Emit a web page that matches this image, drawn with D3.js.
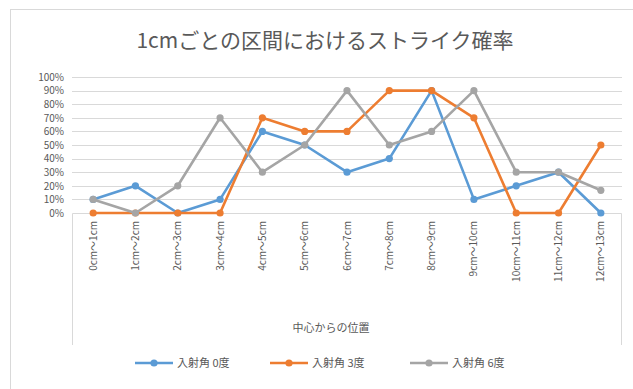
<!DOCTYPE html>
<html>
<head>
<meta charset="utf-8">
<script src="https://cdn.jsdelivr.net/npm/d3@7/dist/d3.min.js"></script>
<style>
  html, body { margin: 0; padding: 0; background: #fff; }
  svg { display: block; font-family: "Noto Sans CJK JP", "Noto Sans", sans-serif; }
</style>
</head>
<body>
<svg id="chart" width="633" height="389"></svg>
<script>
// Interval categories (distance from centre)
const categories = [
  "0cm～1cm", "1cm～2cm", "2cm～3cm", "3cm～4cm", "4cm～5cm", "5cm～6cm",
  "6cm～7cm", "7cm～8cm", "8cm～9cm", "9cm～10cm", "10cm～11cm", "11cm～12cm", "12cm～13cm"
];
// Strike probability per interval for each incidence angle
const angle0 = [0.10, 0.20, 0.00, 0.10, 0.60, 0.50, 0.30, 0.40, 0.90, 0.10, 0.20, 0.30, 0.00];
const angle3 = [0.00, 0.00, 0.00, 0.00, 0.70, 0.60, 0.60, 0.90, 0.90, 0.70, 0.00, 0.00, 0.50];
const angle6 = [0.10, 0.00, 0.20, 0.70, 0.30, 0.50, 0.90, 0.50, 0.60, 0.90, 0.30, 0.30, 0.167];
const seriesNames = ["入射角 0度", "入射角 3度", "入射角 6度"];
const yTicks = [0, 0.1, 0.2, 0.3, 0.4, 0.5, 0.6, 0.7, 0.8, 0.9, 1.0];

const title = "1cmごとの区間におけるストライク確率";
const xTitle = "中心からの位置";

const colors = ["#5b9bd5", "#ed7d31", "#a5a5a5"];
const series = [angle0, angle3, angle6].map((v, i) => ({ name: seriesNames[i], values: v, color: colors[i] }));

const svg = d3.select("#chart");
const W = 633, H = 389;
const plot = { left: 72, right: 622, top: 77, bottom: 213 };

// Chart frame
svg.append("rect")
  .attr("x", 10.5).attr("y", 9.5).attr("width", W + 10).attr("height", H + 10)
  .attr("fill", "#fff").attr("stroke", "#d9d9d9");

// Title
svg.append("text")
  .attr("x", 325).attr("y", 48)
  .attr("text-anchor", "middle")
  .attr("font-size", 21)
  .attr("fill", "#595959")
  .text(title);

const x = d3.scaleBand().domain(categories).range([plot.left, plot.right]);
const y = d3.scaleLinear().domain([0, 1]).range([plot.bottom, plot.top]);

// Horizontal gridlines
svg.append("g")
  .selectAll("line")
  .data(yTicks.filter(t => t > 0))
  .join("line")
  .attr("x1", plot.left).attr("x2", plot.right)
  .attr("y1", d => Math.round(y(d)) + 0.5).attr("y2", d => Math.round(y(d)) + 0.5)
  .attr("stroke", "#d9d9d9").attr("stroke-width", 1);

// Y axis labels
const yAxis = d3.axisLeft(y).tickValues(yTicks).tickFormat(d3.format(".0%")).tickSize(0).tickPadding(8);
const yg = svg.append("g").attr("transform", `translate(${plot.left},0)`).call(yAxis);
yg.select(".domain").remove();
yg.selectAll("text").attr("font-size", 10).attr("fill", "#595959")
  .attr("font-family", "\"Noto Sans CJK JP\", sans-serif");

// Category-axis box below the baseline
const boxBottom = 345;
svg.append("path")
  .attr("d", `M${plot.left + 0.5},${boxBottom}V${Math.round(plot.bottom) + 0.5}H${plot.right - 0.5}V${boxBottom}`)
  .attr("fill", "none").attr("stroke", "#d9d9d9");

// X axis labels (rotated)
const xAxis = d3.axisBottom(x).tickSize(0).tickPadding(0);
const xg = svg.append("g").attr("transform", `translate(0,${plot.bottom})`).call(xAxis);
xg.select(".domain").remove();
xg.selectAll("text")
  .attr("font-size", 10).attr("fill", "#595959")
  .attr("font-family", "\"Noto Sans CJK JP\", sans-serif")
  .attr("transform", "translate(0,8) rotate(-90)")
  .attr("text-anchor", "end")
  .attr("dy", "0.35em")
  .attr("y", 0).attr("x", 0);

// Axis title
svg.append("text")
  .attr("x", 331).attr("y", 332)
  .attr("text-anchor", "middle")
  .attr("font-size", 11).attr("fill", "#595959")
  .text(xTitle);

// Lines and markers
const cx = d => x(d) + x.bandwidth() / 2;
const line = d3.line().x((d, i) => cx(categories[i])).y(d => y(d));
const sg = svg.append("g").selectAll("g").data(series).join("g");
sg.append("path")
  .attr("d", d => line(d.values))
  .attr("fill", "none").attr("stroke", d => d.color)
  .attr("stroke-width", 2.6).attr("stroke-linejoin", "round").attr("stroke-linecap", "round");
sg.each(function (s) {
  d3.select(this).selectAll("circle")
    .data(s.values)
    .join("circle")
    .attr("cx", (d, i) => cx(categories[i]))
    .attr("cy", d => y(d))
    .attr("r", 3.6)
    .attr("fill", s.color);
});

// Legend
const legendX = [135, 270, 410];
const lg = svg.append("g").selectAll("g").data(series).join("g")
  .attr("transform", (d, i) => `translate(${legendX[i]},363)`);
lg.append("line").attr("x1", 0).attr("x2", 38).attr("y1", 0).attr("y2", 0)
  .attr("stroke", d => d.color).attr("stroke-width", 2.6);
lg.append("circle").attr("cx", 19).attr("cy", 0).attr("r", 3.6).attr("fill", d => d.color);
lg.append("text").attr("x", 42).attr("y", 0).attr("dy", "0.35em")
  .attr("font-size", 11).attr("fill", "#595959")
  .text(d => d.name);
</script>
</body>
</html>
